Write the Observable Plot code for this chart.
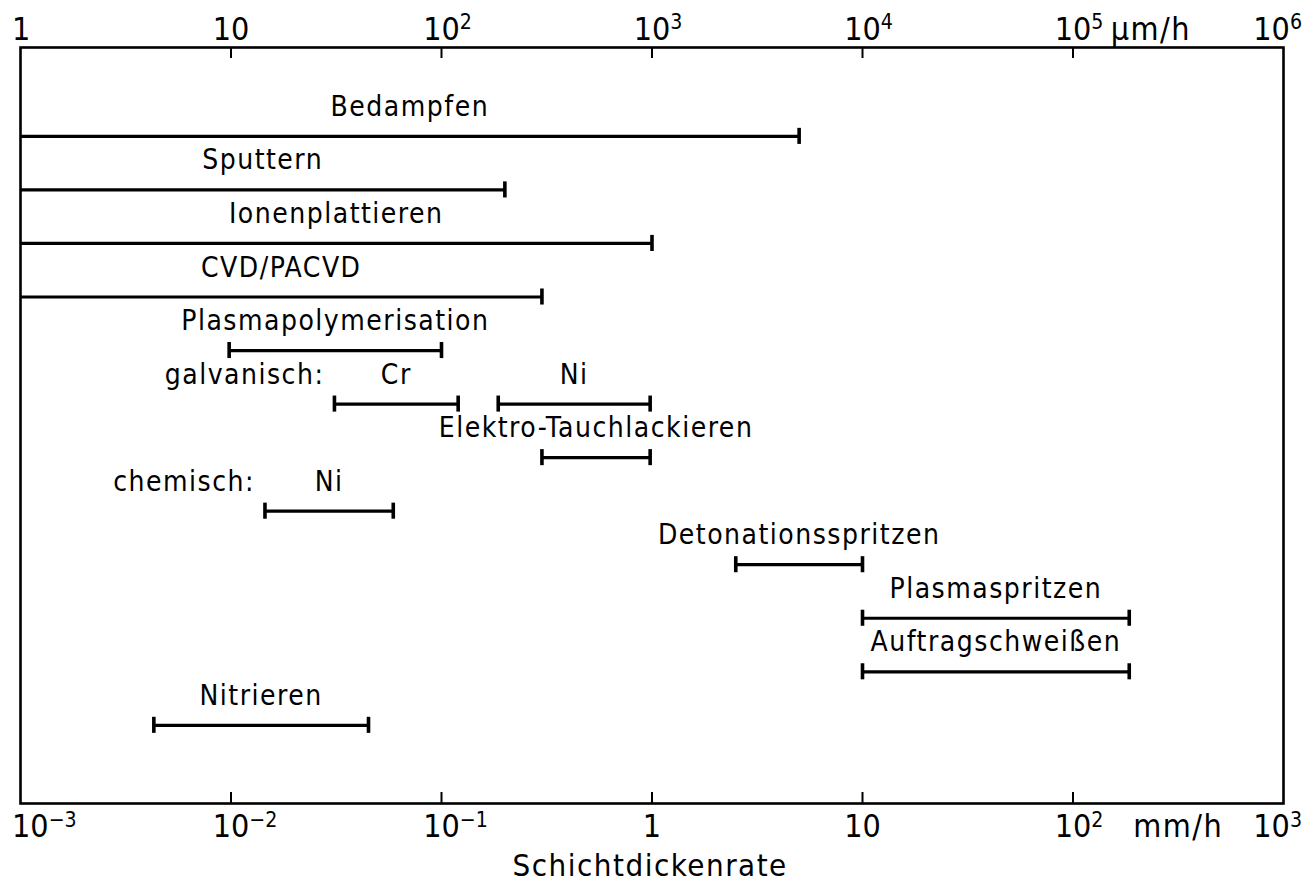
<!DOCTYPE html>
<html><head><meta charset="utf-8">
<script src="https://cdn.jsdelivr.net/npm/d3@7"></script>
<script src="https://cdn.jsdelivr.net/npm/@observablehq/plot@0.6"></script>
<style>html,body{margin:0;padding:0;background:#fff;} svg{display:block}</style>
</head><body><div id="chart"></div>
<script>
// ---- data (rates in mm/h) ----
const processLabels = ["Bedampfen","Sputtern","Ionenplattieren","CVD/PACVD","Plasmapolymerisation","Cr","Ni","Elektro-Tauchlackieren","Ni","Detonationsspritzen","Plasmaspritzen","Auftragschweißen","Nitrieren"];
const processRows   = [0,1,2,3,4,5,5,6,7,8,9,10,11];
const rateMin       = [0.001,0.001,0.001,0.001,0.0098,0.031,0.186,0.30,0.0145,2.5,10,10,0.0043];
const rateMax       = [5,0.2,1,0.3,0.1,0.12,0.98,0.98,0.059,10,185,185,0.045];
const groupLabels   = ["galvanisch:","chemisch:"];
const groupRows     = [5,7];
const groupStart    = [0.031,0.0145];
const decadesMm     = [1e-3,1e-2,1e-1,1,10,100,1000];
const bottomTickLabels = ["10^-3","10^-2","10^-1","1","10","10^2","10^3"];
const topTickLabels    = ["1","10","10^2","10^3","10^4","10^5","10^6"];
const bottomUnit = "mm/h", topUnit = "µm/h", axisTitle = "Schichtdickenrate";

// ---- derived tables ----
const bars = processLabels.map((label,i)=>({label,row:processRows[i],lo:rateMin[i],hi:rateMax[i]}));
const caps = bars.flatMap(b => b.lo > decadesMm[0] ? [{x:b.lo,row:b.row},{x:b.hi,row:b.row}] : [{x:b.hi,row:b.row}]);
const groups = groupLabels.map((label,i)=>({label,row:groupRows[i],start:groupStart[i]}));
const bottomMap = new Map(decadesMm.map((d,i)=>[d,bottomTickLabels[i]]));
const topMap = new Map(decadesMm.map((d,i)=>[d,topTickLabels[i]]));

const FONT = '"DejaVu Sans Condensed","DejaVu Sans",sans-serif';
const W=1306,H=888,mL=20,mR=23,mT=47,mB=85, frameH=H-mT-mB;
const labelLift = 0.55;

const chart = Plot.plot({
  width: W, height: H, marginLeft: mL, marginRight: mR, marginTop: mT, marginBottom: mB,
  style: {fontFamily: FONT, color: "#000", background: "#fff", overflow: "visible"},
  x: {type: "log", domain: [1e-3, 1e3], axis: null},
  y: {domain: [-1.66, 12.46], range: [mT, H-mB], axis: null},
  marks: [
    Plot.frame({stroke: "#000", strokeWidth: 2.6}),
    Plot.tickX(decadesMm.slice(1,-1), {x: d=>d, insetTop: frameH-11, strokeWidth: 2}),
    Plot.tickX(decadesMm.slice(1,-1), {x: d=>d, insetBottom: frameH-11, strokeWidth: 2}),
    Plot.axisX(decadesMm, {anchor: "bottom", tickSize: 0, tickPadding: 11, tickFormat: d=>bottomMap.get(d), fontSize: 32, label: null}),
    Plot.axisX(decadesMm, {anchor: "top", tickSize: 0, tickPadding: 8, tickFormat: d=>topMap.get(d), fontSize: 32, label: null}),
    Plot.text([topUnit], {x: ()=>10**2.37, frameAnchor: "top", lineAnchor: "bottom", dy: -8, fontSize: 32, text: d=>d}),
    Plot.text([bottomUnit], {x: ()=>10**2.5, frameAnchor: "bottom", lineAnchor: "top", dy: 11, fontSize: 32, text: d=>d}),
    Plot.text([axisTitle], {x: ()=>0.98, frameAnchor: "bottom", lineAnchor: "top", dy: 50, fontSize: 31, text: d=>d}),
    Plot.ruleY(bars, {y: "row", x1: "lo", x2: "hi", strokeWidth: 3.2, stroke: "#000"}),
    Plot.ruleX(caps, {x: "x", y1: d=>d.row-0.15, y2: d=>d.row+0.15, strokeWidth: 3.6, stroke: "#000"}),
    Plot.text(bars, {x: d=>Math.sqrt(d.lo*d.hi), y: d=>d.row-labelLift, text: "label", fontSize: 28, fill: "#000"}),
    Plot.text(groups, {x: "start", y: d=>d.row-labelLift, text: "label", textAnchor: "end", dx: -10, fontSize: 28, fill: "#000"})
  ]
});
document.getElementById("chart").appendChild(chart);

// letter spacing for the lettering
d3.select(chart).selectAll("text").style("letter-spacing","1.5px");

// tick labels: superscripts, base centred on tick, kept inside the picture
d3.select(chart).selectAll('g[aria-label="x-axis tick label"] text').each(function(){
  const el = this, t = d3.select(el);
  t.style("letter-spacing","0px");
  const s = el.textContent;
  let shift = 0;
  if (s.includes("^")) {
    const [base, exp] = s.split("^");
    t.text(null);
    const b = t.append("tspan").text(base);
    t.append("tspan").attr("dy","-0.5em").attr("font-size","0.66em").text(exp.replace("-","\u2212"));
    const total = el.getComputedTextLength();
    const bw = b.node().getComputedTextLength();
    shift = (total - bw) / 2;
  }
  const tr = el.getAttribute("transform") || "";
  el.setAttribute("transform", `${tr} translate(${shift},0)`);
  const r = el.getBoundingClientRect();
  let extra = 0;
  if (r.left < 12) extra = 12 - r.left;
  if (r.right > W - 4) extra = (W - 4) - r.right;
  if (extra) el.setAttribute("transform", `${tr} translate(${shift + extra},0)`);
});
</script></body></html>
